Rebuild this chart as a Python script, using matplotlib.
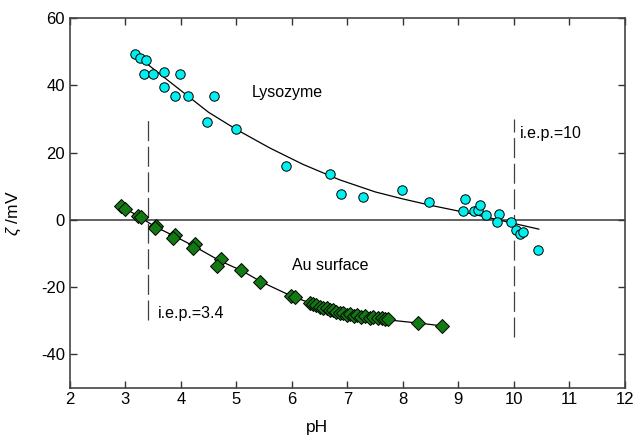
import numpy as np
import matplotlib
matplotlib.use("Agg")
import matplotlib.pyplot as plt

plt.rcParams['font.family'] = ['Liberation Sans', 'DejaVu Sans']
plt.rcParams['axes.unicode_minus'] = False
plt.rcParams['mathtext.fontset'] = 'custom'
plt.rcParams['mathtext.it'] = 'Liberation Sans:italic'
plt.rcParams['mathtext.rm'] = 'Liberation Sans'

# Lysozyme - diem do
lyso_ph = [3.17, 3.27, 3.37, 3.34, 3.49, 3.69, 3.99, 3.69, 3.89, 4.13, 4.59, 4.48, 4.99,
           5.89, 6.68, 6.88, 7.28, 7.98, 8.48, 9.12, 9.09, 9.29, 9.35, 9.39, 9.49,
           9.74, 9.69, 9.94, 10.04, 10.11, 10.17, 10.43]
lyso_zeta = [49.3, 48.1, 47.5, 43.5, 43.3, 44.1, 43.4, 39.6, 37.0, 36.9, 36.9, 29.0, 26.9,
             16.1, 13.5, 7.7, 6.7, 9.0, 5.4, 6.2, 2.7, 2.5, 3.0, 4.5, 1.4,
             1.7, -0.7, -0.6, -3.0, -4.2, -3.6, -9.0]

# Lysozyme - duong fit (doc tu hinh)
lyso_fit_ph = [3.17, 3.5, 4.13, 4.5, 5.0, 5.6, 6.2, 6.86, 7.5, 8.0, 8.5, 9.0, 9.5, 10.0, 10.45]
lyso_fit_zeta = [49.3, 45.0, 36.8, 32.0, 26.9, 21.4, 16.5, 11.9, 8.3, 6.2, 4.3, 2.6, 0.8, -1.1, -2.8]

# Au surface - diem do
au_ph = [2.93, 2.99, 3.23, 3.28, 3.56, 3.54, 3.89, 3.86, 4.25, 4.22, 4.73, 4.65, 5.09, 5.42,
         5.99, 6.05, 6.32, 6.38, 6.44, 6.50, 6.56, 6.63, 6.68, 6.74, 6.80, 6.86, 6.92,
         7.00, 7.05, 7.12, 7.18, 7.25, 7.32, 7.40, 7.47, 7.55, 7.62, 7.68, 7.74, 8.28, 8.70]
au_zeta = [4.0, 3.2, 1.0, 0.8, -2.0, -2.5, -4.5, -5.3, -7.3, -8.5, -11.6, -13.7, -14.9, -18.6,
           -22.7, -23.1, -24.9, -25.0, -25.4, -26.0, -26.2, -26.4, -27.0, -26.9, -27.6, -27.9, -27.7,
           -28.4, -28.0, -28.6, -28.3, -28.9, -28.7, -29.2, -29.0, -29.4, -29.2, -29.5, -29.6, -30.8, -31.6]

# Au surface - duong fit
au_fit_ph = [2.93, 3.25, 3.55, 3.9, 4.25, 4.7, 5.1, 5.45, 6.0, 6.5, 7.0, 7.5, 8.0, 8.3, 8.7]
au_fit_zeta = [4.0, 0.9, -2.2, -5.0, -8.0, -12.2, -15.2, -18.5, -22.8, -25.8, -28.0, -29.4, -30.3, -30.8, -31.6]

# diem dang dien (i.e.p.)
iep_x = [3.4, 10.0]
iep_ymin = [-30, -35]
iep_ymax = [30, 30]

fig = plt.figure(figsize=(6.35, 4.36), dpi=100)
ax = fig.add_axes([0.110, 0.111, 0.874, 0.847])

ax.axhline(0, color='#555555', linewidth=1.3, zorder=1)
for x, y0, y1 in zip(iep_x, iep_ymin, iep_ymax):
    ax.plot([x, x], [y0, y1], color='#404040', linewidth=0.9, dashes=(16, 4.5), zorder=1)

ax.plot(lyso_fit_ph, lyso_fit_zeta, color='black', linewidth=0.9, zorder=2)
ax.plot(au_fit_ph, au_fit_zeta, color='black', linewidth=0.9, zorder=2)

ax.plot(lyso_ph, lyso_zeta, 'o', color='#00F0F0', markeredgecolor='black',
        markeredgewidth=0.7, markersize=6.8, zorder=3)
ax.plot(au_ph, au_zeta, 'D', color='#137A13', markeredgecolor='black',
        markeredgewidth=0.7, markersize=7.2, zorder=3)

ax.text(5.28, 38, 'Lysozyme', fontsize=11.5, va='center')
ax.text(6.0, -13.7, 'Au surface', fontsize=11.5, va='center')
ax.text(3.59, -28, 'i.e.p.=3.4', fontsize=11.5, va='center')
ax.text(10.1, 25.7, 'i.e.p.=10', fontsize=11.5, va='center')

ax.set_xlim(2, 12)
ax.set_ylim(-50, 60)
ax.set_xticks(range(2, 13))
ax.set_yticks([-40, -20, 0, 20, 40, 60])
ax.tick_params(direction='in', length=5, width=1, top=True, right=True,
               labelsize=12, colors='#333333', labelcolor='black')
for s in ax.spines.values():
    s.set_color('#444444')
    s.set_linewidth(1.2)

ax.set_xlabel('pH', fontsize=12.5)
ax.xaxis.set_label_coords(0.445, -0.088)
ax.set_ylabel(r'$\zeta$ /mV', fontsize=12.5)
ax.yaxis.set_label_coords(-0.085, 0.473)

plt.savefig('out.png', dpi=100)
